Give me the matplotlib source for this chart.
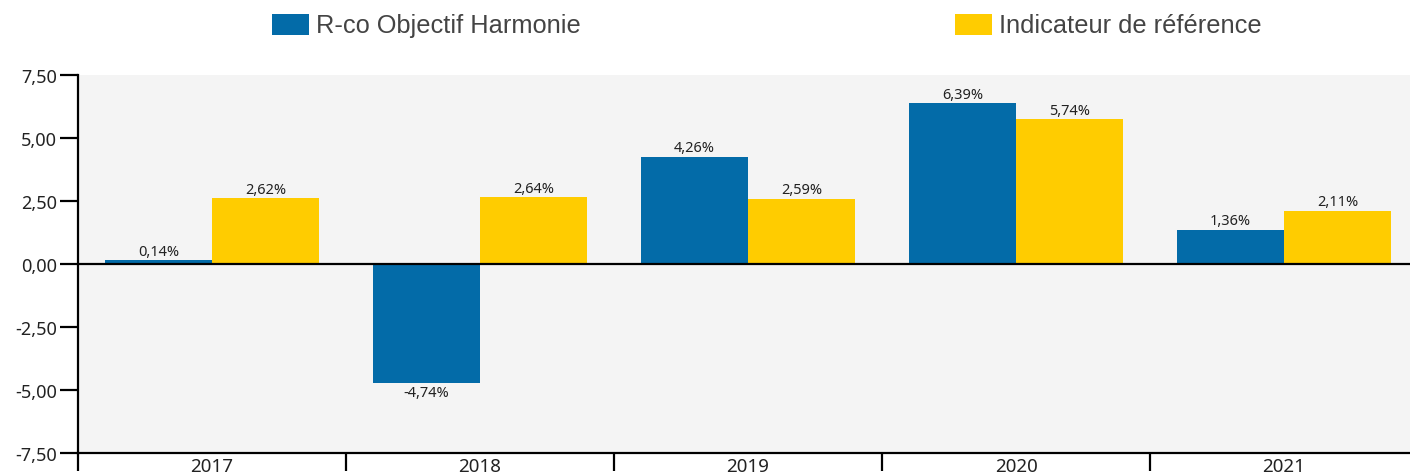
import matplotlib
matplotlib.use("Agg")
import matplotlib.pyplot as plt
import numpy as np

years = ["2017", "2018", "2019", "2020", "2021"]
fund = [0.14, -4.74, 4.26, 6.39, 1.36]
benchmark = [2.62, 2.64, 2.59, 5.74, 2.11]
series_names = ["R-co Objectif Harmonie", "Indicateur de référence"]
yticks = [7.5, 5.0, 2.5, 0.0, -2.5, -5.0, -7.5]

BLUE = "#036ba8"
YELLOW = "#ffcc00"
BG = "#f4f4f4"


def fr(v, dec=2):
    return f"{v:.{dec}f}".replace(".", ",")


fig = plt.figure(figsize=(14.1, 4.77), dpi=100)
ax = fig.add_axes([78 / 1410, 23 / 477, 1 - 78 / 1410, 378 / 477])
ax.set_facecolor(BG)

x = np.arange(len(years))
w = 0.4
b1 = ax.bar(x - w / 2, fund, w, color=BLUE, zorder=2)
b2 = ax.bar(x + w / 2, benchmark, w, color=YELLOW, zorder=2)

# value labels above / below each bar
for bars, vals in [(b1, fund), (b2, benchmark)]:
    for rect, v in zip(bars, vals):
        cx = rect.get_x() + rect.get_width() / 2
        off, va = (1, "bottom") if v >= 0 else (-1, "top")
        ax.annotate(fr(v) + "%", (cx, v), xytext=(0, off), textcoords="offset points",
                    ha="center", va=va, fontsize=10.5, family="Noto Sans", color="#222222")

ax.axhline(0, color="black", lw=1.6, zorder=3)

ax.set_ylim(-7.5, 7.5)
ax.set_xlim(-0.5, 4.47)
ax.set_yticks(yticks)
ax.set_yticklabels([fr(v) for v in yticks], fontsize=13, family="Noto Sans", color="#222222")
ax.tick_params(axis="y", length=13, width=1.6, pad=2, color="black")

ax.set_xticks(x)
ax.set_xticklabels(years, fontsize=13.5, family="Noto Sans", color="#222222")
ax.set_xticks(np.arange(len(years)) - 0.5, minor=True)
ax.tick_params(axis="x", which="major", length=0, pad=3)
ax.tick_params(axis="x", which="minor", length=13, width=1.6, color="black")

for s in ["top", "right"]:
    ax.spines[s].set_visible(False)
ax.spines["left"].set_linewidth(1.6)
ax.spines["bottom"].set_linewidth(1.6)

# legend drawn by hand at the top
fig.text(316 / 1410, 1 - 26 / 477, series_names[0], fontsize=18.3, family="Liberation Sans",
         color="#444444", va="center", ha="left")
fig.text(999 / 1410, 1 - 26 / 477, series_names[1], fontsize=18.3, family="Liberation Sans",
         color="#444444", va="center", ha="left")
fig.patches.append(plt.Rectangle((272 / 1410, 1 - 36 / 477), 37 / 1410, 21 / 477,
                                 facecolor=BLUE, transform=fig.transFigure, figure=fig))
fig.patches.append(plt.Rectangle((955 / 1410, 1 - 36 / 477), 37 / 1410, 21 / 477,
                                 facecolor=YELLOW, transform=fig.transFigure, figure=fig))

fig.savefig("out.png", dpi=100)
